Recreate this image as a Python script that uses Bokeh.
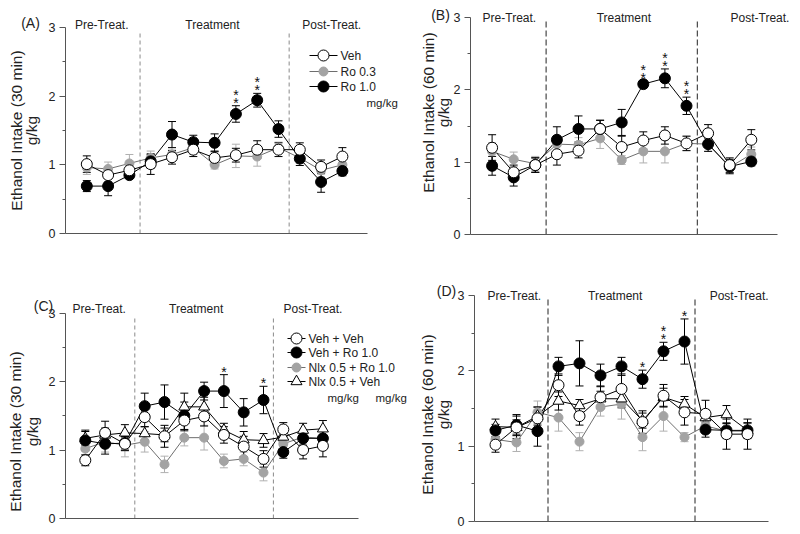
import math
from bokeh.plotting import figure
from bokeh.models import ColumnDataSource, Whisker, TeeHead, FixedTicker, Range1d, LinearAxis
from bokeh.layouts import row, column
from bokeh.embed import file_html
from bokeh.resources import INLINE
from bokeh.core.properties import value

FONT = "Liberation Sans"

days = list(range(1, 14))
phase_labels = ["Pre-Treat.", "Treatment", "Post-Treat."]
phase_bounds = [3.5, 10.5]
y_ticks = [0, 1, 2, 3]
y_minor = [0.5, 1.5, 2.5]

# ---------------- Panel A: 30 min ----------------
a_veh = [1.01, 0.85, 0.92, 1.01, 1.11, 1.22, 1.10, 1.14, 1.22, 1.22, 1.22, 0.97, 1.12]
a_veh_err = [0.12, 0.10, 0.10, 0.15, 0.10, 0.10, 0.10, 0.10, 0.13, 0.10, 0.10, 0.10, 0.13]
a_ro03 = [0.96, 0.94, 1.02, 1.10, 1.15, 1.25, 1.00, 1.13, 1.12, 1.25, 1.10, 0.92, 1.00]
a_ro03_err = [0.10, 0.10, 0.13, 0.10, 0.10, 0.10, 0.06, 0.17, 0.14, 0.08, 0.08, 0.10, 0.10]
a_ro10 = [0.69, 0.69, 0.85, 1.05, 1.44, 1.33, 1.32, 1.74, 1.94, 1.52, 1.09, 0.75, 0.91]
a_ro10_err = [0.08, 0.14, 0.05, 0.10, 0.19, 0.10, 0.13, 0.12, 0.10, 0.12, 0.10, 0.15, 0.07]
a_stars = [(8, 2), (9, 2)]

# ---------------- Panel B: 60 min ----------------
b_veh = [1.20, 0.86, 0.96, 1.11, 1.16, 1.46, 1.21, 1.30, 1.37, 1.26, 1.40, 0.96, 1.31]
b_veh_err = [0.18, 0.10, 0.10, 0.15, 0.10, 0.12, 0.15, 0.12, 0.12, 0.10, 0.12, 0.10, 0.14]
b_ro03 = [1.15, 1.04, 0.98, 1.25, 1.24, 1.33, 1.03, 1.15, 1.15, 1.26, 1.25, 0.93, 1.11]
b_ro03_err = [0.12, 0.10, 0.10, 0.12, 0.10, 0.14, 0.06, 0.16, 0.16, 0.10, 0.10, 0.08, 0.10]
b_ro10 = [0.95, 0.79, 0.96, 1.31, 1.46, 1.46, 1.55, 2.08, 2.16, 1.78, 1.25, 0.94, 1.01]
b_ro10_err = [0.13, 0.12, 0.10, 0.18, 0.18, 0.12, 0.18, 0.05, 0.13, 0.12, 0.10, 0.10, 0.06]
b_stars = [(8, 2), (9, 2), (10, 2)]

# ---------------- Panel C: 30 min, naloxone ----------------
c_vv = [0.85, 1.25, 1.09, 1.48, 1.20, 1.43, 1.49, 1.22, 1.05, 0.87, 1.30, 1.00, 1.06]
c_vv_err = [0.08, 0.17, 0.10, 0.14, 0.16, 0.15, 0.14, 0.12, 0.15, 0.12, 0.10, 0.13, 0.16]
c_vr = [1.14, 1.09, 1.10, 1.64, 1.70, 1.50, 1.86, 1.86, 1.55, 1.73, 0.97, 1.17, 1.17]
c_vr_err = [0.15, 0.15, 0.10, 0.19, 0.25, 0.20, 0.13, 0.24, 0.20, 0.20, 0.09, 0.10, 0.10]
c_nr = [1.02, 1.12, 1.07, 1.12, 0.79, 1.18, 1.18, 0.84, 0.87, 0.67, 1.09, 1.19, 1.17]
c_nr_err = [0.10, 0.15, 0.17, 0.15, 0.12, 0.12, 0.18, 0.10, 0.10, 0.12, 0.10, 0.10, 0.10]
c_nv = [1.17, 1.22, 1.25, 1.24, 1.22, 1.63, 1.63, 1.29, 1.15, 1.14, 1.19, 1.29, 1.31]
c_nv_err = [0.10, 0.10, 0.12, 0.10, 0.10, 0.20, 0.14, 0.10, 0.12, 0.10, 0.10, 0.10, 0.12]
c_stars = [(8, 1), (10, 1)]

# ---------------- Panel D: 60 min, naloxone ----------------
d_vv = [1.02, 1.25, 1.37, 1.81, 1.40, 1.65, 1.76, 1.32, 1.67, 1.45, 1.43, 1.16, 1.16]
d_vv_err = [0.10, 0.15, 0.15, 0.15, 0.12, 0.15, 0.20, 0.15, 0.15, 0.17, 0.18, 0.20, 0.20]
d_vr = [1.21, 1.28, 1.20, 2.06, 2.10, 1.94, 2.06, 1.89, 2.26, 2.39, 1.22, 1.21, 1.21]
d_vr_err = [0.08, 0.14, 0.20, 0.12, 0.30, 0.15, 0.12, 0.12, 0.12, 0.30, 0.10, 0.10, 0.10]
d_nr = [1.09, 1.05, 1.45, 1.38, 1.06, 1.52, 1.56, 1.12, 1.40, 1.12, 1.27, 1.20, 1.20]
d_nr_err = [0.10, 0.12, 0.15, 0.18, 0.12, 0.12, 0.20, 0.18, 0.20, 0.06, 0.10, 0.10, 0.10]
d_nv = [1.26, 1.25, 1.40, 1.60, 1.54, 1.63, 1.63, 1.34, 1.65, 1.56, 1.38, 1.42, 1.21]
d_nv_err = [0.10, 0.10, 0.12, 0.12, 0.08, 0.10, 0.12, 0.10, 0.12, 0.10, 0.10, 0.12, 0.10]
d_stars = [(8, 1), (9, 2), (10, 1)]

legend_ab = ["Veh", "Ro 0.3", "Ro 1.0"]
legend_cd = ["Veh + Veh", "Veh + Ro 1.0", "Nlx 0.5 + Ro 1.0", "Nlx 0.5 + Veh"]

STYLES = {
    "open": dict(marker="circle", size=11, fill_color="white", line_color="black", line="black", err="black"),
    "black": dict(marker="circle", size=11, fill_color="black", line_color="black", line="black", err="black"),
    "gray": dict(marker="circle", size=9, fill_color="#a3a3a3", line_color="#a3a3a3", line="#6e6e6e", err="#b0b0b0"),
    "tri": dict(marker="triangle", size=11, fill_color="white", line_color="black", line="black", err="black"),
}


class Geo:
    """Figure box (fx0, fy0, w, h) and data origin (ox, oy) in page pixels, px per unit."""
    def __init__(self, fx0, fy0, w, h, ox, oy, sx, sy, xend, dash_color, dash):
        self.fx0, self.fy0, self.w, self.h = fx0, fy0, w, h
        self.ox, self.oy, self.sx, self.sy = ox, oy, sx, sy
        self.xend, self.dash_color, self.dash = xend, dash_color, dash

    def dx(self, ix):
        return (ix - self.ox) / self.sx

    def dy(self, iy):
        return (self.oy - iy) / self.sy


def ptext(p, x, y, s, size, align="center", baseline="middle", angle=0.0, color="#222222"):
    p.text(x=[x], y=[y], text=[s], text_font=value(FONT), text_font_size=size,
           text_align=align, text_baseline=baseline, angle=angle, text_color=color)


def make_panel(g, letter, letter_pos, ylab, ylab_x, ylab_cy, phase_x, phase_iy,
               series, stars, legend):
    p = figure(width=g.w, height=g.h, output_backend="svg", toolbar_location=None,
               x_range=Range1d(g.dx(g.fx0), g.dx(g.fx0 + g.w)),
               y_range=Range1d(g.dy(g.fy0 + g.h), g.dy(g.fy0)),
               min_border=0, x_axis_type=None, y_axis_type=None)
    p.outline_line_color = None
    p.grid.visible = False
    p.background_fill_color = "white"

    yax = LinearAxis(ticker=FixedTicker(ticks=y_ticks, minor_ticks=y_minor), bounds=(0, 3),
                     fixed_location=0)
    yax.axis_line_color = "#555555"
    yax.major_tick_line_color = "#555555"
    yax.minor_tick_line_color = "#555555"
    yax.major_tick_in = 0
    yax.major_tick_out = 6
    yax.minor_tick_in = 0
    yax.minor_tick_out = 3
    yax.major_label_text_font = FONT
    yax.major_label_text_font_size = "12.5px"
    yax.major_label_text_color = "#222222"
    yax.major_label_standoff = 4
    p.add_layout(yax, "left")

    xax = LinearAxis(ticker=FixedTicker(ticks=[]), bounds=(0, g.xend), fixed_location=0)
    xax.axis_line_color = "#555555"
    xax.major_tick_line_color = None
    xax.minor_tick_line_color = None
    xax.major_label_text_font_size = "0px"
    xax.major_label_standoff = 0
    p.add_layout(xax, "below")

    # phase separators
    for xb in phase_bounds:
        p.segment(x0=[xb], y0=[0], x1=[xb], y1=[2.95], line_color=g.dash_color,
                  line_width=1, line_dash=g.dash)
    for txt, px in zip(phase_labels, phase_x):
        ptext(p, px, g.dy(phase_iy), txt, "12px")

    # error bars (underlay)
    for (y, err, style) in series:
        st = STYLES[style]
        src = ColumnDataSource(dict(x=days, lo=[a - b for a, b in zip(y, err)],
                                    hi=[a + b for a, b in zip(y, err)]))
        w = Whisker(base="x", lower="lo", upper="hi", source=src, level="underlay",
                    line_color=st["err"], line_width=1,
                    upper_head=TeeHead(size=8, line_color=st["err"], line_width=1),
                    lower_head=TeeHead(size=8, line_color=st["err"], line_width=1))
        p.add_layout(w)

    for (y, err, style) in series:
        p.line(days, y, line_color=STYLES[style]["line"], line_width=1)
    for (y, err, style) in series:
        st = STYLES[style]
        p.scatter(days, y, marker=st["marker"], size=st["size"], fill_color=st["fill_color"],
                  line_color=st["line_color"], line_width=1)

    # significance stars above the Ro 1.0 series
    ref_y, ref_err = series[stars[1]][0], series[stars[1]][1]
    for (day, n) in stars[0]:
        top = ref_y[day - 1] + ref_err[day - 1]
        for k in range(n):
            p.text(x=[day], y=[top], text=["*"], text_font=value(FONT), text_font_size="14px",
                   text_align="center", text_baseline="alphabetic", y_offset=-(3 + 8 * k),
                   text_color="#111111")

    # legend
    (lx0, lx1, lmx, ltx, rows, names, order, mg) = legend
    for iy, name, style in zip(rows, names, order):
        st = STYLES[style]
        yy = g.dy(iy)
        p.line([g.dx(lx0), g.dx(lx1)], [yy, yy], line_color=st["line"], line_width=1)
        p.scatter([g.dx(lmx)], [yy], marker=st["marker"], size=st["size"],
                  fill_color=st["fill_color"], line_color=st["line_color"], line_width=1)
        ptext(p, g.dx(ltx), yy, name, "12px", align="left")
    for (mx, my) in mg:
        ptext(p, g.dx(mx), g.dy(my), "mg/kg", "11.5px", align="left")

    # panel letter and y-axis title
    ptext(p, g.dx(letter_pos[0]), g.dy(letter_pos[1]), letter, "14px")
    for txt, lx in zip(ylab, ylab_x):
        ptext(p, g.dx(lx), g.dy(ylab_cy), txt, "15.5px", angle=math.pi / 2)
    return p


gA = Geo(0, 0, 400, 270, 65, 233, 21.3, 68.7, 14.2, "#8a8a8a", "4 3")
gB = Geo(400, 0, 400, 270, 470, 234, 21.6, 72.3, 14.2, "#222222", "6 3")
gC = Geo(0, 270, 408, 264, 65, 518, 19.8, 68.5, 14.8, "#8a8a8a", "4 3")
gD = Geo(408, 270, 392, 264, 474, 521, 21.0, 75.3, 14.0, "#222222", "6 3")

pA = make_panel(gA, "(A)", (30, 22), ["Ethanol Intake (30 min)", "g/kg"], (16, 31), 130,
                [1.7, 6.9, 12.5], 24,
                [(a_ro03, a_ro03_err, "gray"), (a_ro10, a_ro10_err, "black"), (a_veh, a_veh_err, "open")],
                (a_stars, 1),
                (309, 337, 323, 340, [55, 71, 86], legend_ab, ["open", "gray", "black"], [(366, 102)]))
pB = make_panel(gB, "(B)", (440, 14), ["Ethanol Intake (60 min)", "g/kg"], (428, 443), 112,
                [1.8, 7.1, 13.4], 17,
                [(b_ro03, b_ro03_err, "gray"), (b_ro10, b_ro10_err, "black"), (b_veh, b_veh_err, "open")],
                (b_stars, 1),
                (0, 0, 0, 0, [], [], [], []))
pC = make_panel(gC, "(C)", (43, 305), ["Ethanol Intake (30 min)", "g/kg"], (15, 32), 431,
                [1.7, 6.6, 12.5], 308,
                [(c_nr, c_nr_err, "gray"), (c_nv, c_nv_err, "tri"), (c_vr, c_vr_err, "black"), (c_vv, c_vv_err, "open")],
                (c_stars, 2),
                (287, 305, 296, 308, [338, 352, 367, 381], legend_cd, ["open", "black", "gray", "tri"],
                 [(327, 397), (375, 397)]))
pD = make_panel(gD, "(D)", (446, 290), ["Ethanol Intake (60 min)", "g/kg"], (427, 443), 414,
                [1.9, 6.7, 12.6], 295,
                [(d_nr, d_nr_err, "gray"), (d_nv, d_nv_err, "tri"), (d_vr, d_vr_err, "black"), (d_vv, d_vv_err, "open")],
                (d_stars, 2),
                (0, 0, 0, 0, [], [], [], []))

layout = column(row(pA, pB), row(pC, pD))
open("out.html", "w").write(file_html(layout, INLINE))
